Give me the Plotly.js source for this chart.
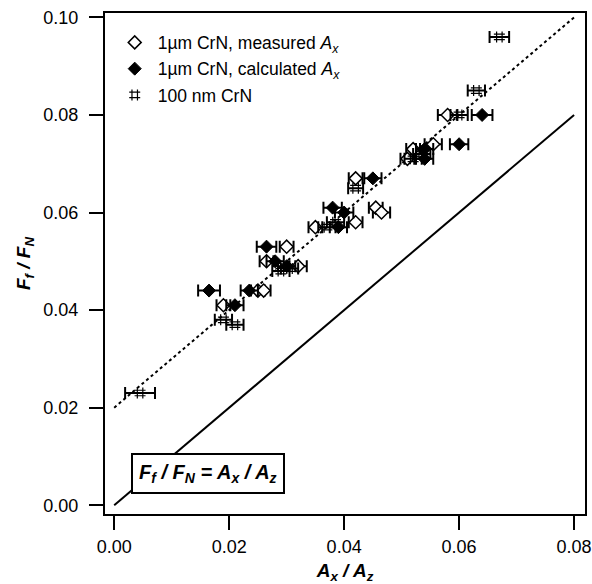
<!DOCTYPE html>
<html>
<head>
<meta charset="utf-8">
<script src="https://cdn.plot.ly/plotly-3.0.1.min.js"></script>
<style>html,body{margin:0;padding:0;background:#fff;}#chart{width:592px;height:584px;}</style>
</head>
<body>
<div id="chart"></div>
<script>
// 1 µm CrN, measured Ax (open diamonds)
const measX = [0.058, 0.0555, 0.052, 0.051, 0.042, 0.0455, 0.0465, 0.035, 0.042, 0.030, 0.0265, 0.032, 0.025, 0.026, 0.019];
const measY = [0.080, 0.074, 0.073, 0.071, 0.067, 0.061, 0.060, 0.057, 0.058, 0.053, 0.050, 0.049, 0.044, 0.044, 0.041];
const measErr = [0.0017, 0.0015, 0.0012, 0.0012, 0.0012, 0.0012, 0.0015, 0.0012, 0.0012, 0.0012, 0.0012, 0.0015, 0.0012, 0.0012, 0.0012];
// 1 µm CrN, calculated Ax (filled diamonds)
const calcX = [0.064, 0.060, 0.054, 0.054, 0.045, 0.038, 0.040, 0.039, 0.0265, 0.028, 0.030, 0.0165, 0.0235, 0.021];
const calcY = [0.080, 0.074, 0.073, 0.071, 0.067, 0.061, 0.060, 0.057, 0.053, 0.050, 0.049, 0.044, 0.044, 0.041];
const calcErr = [0.0018, 0.0016, 0.0015, 0.0015, 0.0015, 0.0016, 0.0016, 0.0015, 0.0017, 0.0015, 0.0015, 0.0019, 0.0015, 0.0015];
// 100 nm CrN (hash markers)
const nanoX = [0.067, 0.063, 0.060, 0.052, 0.0535, 0.042, 0.037, 0.0385, 0.029, 0.0305, 0.019, 0.021, 0.0045];
const nanoY = [0.096, 0.085, 0.080, 0.071, 0.072, 0.065, 0.057, 0.058, 0.048, 0.0485, 0.038, 0.037, 0.023];
const nanoErr = [0.0017, 0.0015, 0.0015, 0.0015, 0.0015, 0.0013, 0.0015, 0.0015, 0.0015, 0.0015, 0.0015, 0.0015, 0.0026];
// reference lines
const fitX = [0, 0.08];
const fitY = [0.02, 0.10];
const idX = [0, 0.08];
const idY = [0, 0.08];
const xTicks = [0, 0.02, 0.04, 0.06, 0.08];
const xTickText = ['0.00', '0.02', '0.04', '0.06', '0.08'];
const yTicks = [0, 0.02, 0.04, 0.06, 0.08, 0.10];
const yTickText = ['0.00', '0.02', '0.04', '0.06', '0.08', '0.10'];

const FONT = "Liberation Sans, Arial, sans-serif";
const errStyle = (arr) => ({type: 'data', array: arr, visible: true, color: '#000', thickness: 2, width: 6});

const traces = [
  {x: idX, y: idY, mode: 'lines', line: {color: '#000', width: 2}, showlegend: false, hoverinfo: 'skip'},
  {x: fitX, y: fitY, mode: 'lines', line: {color: '#000', width: 2, dash: 'dot'}, showlegend: false, hoverinfo: 'skip'},
  {x: measX, y: measY, mode: 'markers', name: '1\u00b5m CrN, measured <i>A</i><sub><i>x</i></sub>', legendgroup: 'a',
   marker: {symbol: 'diamond', size: 10, color: '#fff', line: {color: '#000', width: 1.5}}, error_x: errStyle(measErr)},
  {x: calcX, y: calcY, mode: 'markers', name: '1\u00b5m CrN, calculated <i>A</i><sub><i>x</i></sub>', legendgroup: 'b',
   marker: {symbol: 'diamond', size: 10, color: '#000', line: {color: '#000', width: 1}}, error_x: errStyle(calcErr)},
  {x: nanoX, y: nanoY, mode: 'markers', name: '100 nm CrN', legendgroup: 'c',
   marker: {symbol: 'hash-open', size: 11, color: '#000', line: {color: '#000', width: 1.2}}, error_x: errStyle(nanoErr)}
];

const layout = {
  width: 592, height: 584,
  margin: {l: 105, r: 7, t: 13, b: 70},
  paper_bgcolor: '#fff', plot_bgcolor: '#fff',
  font: {family: FONT, size: 17, color: '#000'},
  showlegend: true,
  legend: {x: 0.014, y: 0.977, xanchor: 'left', yanchor: 'top', bgcolor: 'rgba(0,0,0,0)', tracegroupgap: 0.5, itemwidth: 36,
           font: {family: FONT, size: 17.5, color: '#000'}},
  xaxis: {range: [-0.0016, 0.0819], tickvals: xTicks, ticktext: xTickText,
          showgrid: false, zeroline: false, showline: true, linecolor: '#000', linewidth: 2, mirror: true,
          ticks: 'outside', ticklen: 14, tickwidth: 2, tickcolor: '#000', ticklabelstandoff: 1,
          tickfont: {family: FONT, size: 18, color: '#000'}, automargin: false,
          title: {text: '<b><i>A<sub>x</sub> / A<sub>z</sub></i></b>', font: {family: FONT, size: 19, color: '#000'}, standoff: 11}},
  yaxis: {range: [-0.0018, 0.1009], tickvals: yTicks, ticktext: yTickText,
          showgrid: false, zeroline: false, showline: true, linecolor: '#000', linewidth: 2, mirror: true,
          ticks: 'outside', ticklen: 14, tickwidth: 2, tickcolor: '#000', ticklabelstandoff: 7,
          tickfont: {family: FONT, size: 18, color: '#000'}, automargin: false,
          title: {text: '<b><i>F<sub>f</sub> / F<sub>N</sub></i></b>', font: {family: FONT, size: 19, color: '#000'}, standoff: 8}},
  annotations: [{
    xref: 'paper', yref: 'paper', x: 0.2156, y: 0.0808, xanchor: 'center', yanchor: 'middle', showarrow: false,
    text: '<b><i>F<sub>f</sub> / F<sub>N</sub> = A<sub>x</sub> / A<sub>z</sub></i></b>',
    font: {family: FONT, size: 20, color: '#000'},
    bgcolor: '#fff', bordercolor: '#000', borderwidth: 2, borderpad: 6
  }]
};

Plotly.newPlot('chart', traces, layout, {displayModeBar: false, staticPlot: true});
</script>
</body>
</html>
